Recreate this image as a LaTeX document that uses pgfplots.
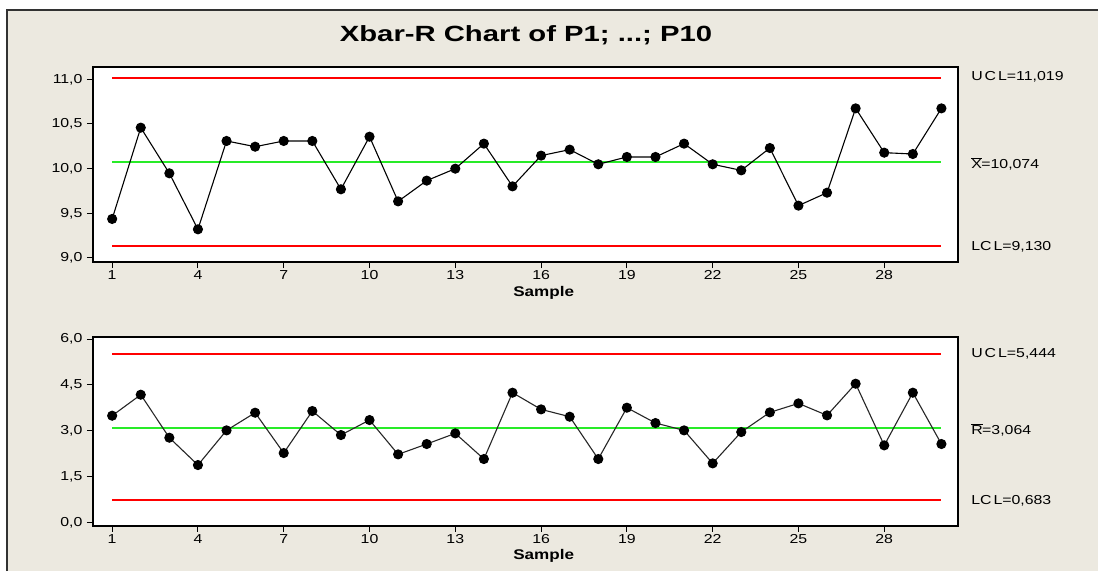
\documentclass[border=0pt]{standalone}
\usepackage{fontspec}
\setmainfont{Liberation Sans}[FakeStretch=1.22]
\newfontfamily\titlefont{Liberation Sans}[FakeStretch=1.33]
\usepackage{pgfplots}
\pgfplotsset{compat=1.18}
\definecolor{bgbeige}{RGB}{236,233,224}
\definecolor{limred}{RGB}{255,0,0}
\definecolor{centgreen}{RGB}{40,235,40}
\definecolor{framegray}{RGB}{50,50,50}

\pgfplotstableread{
x y
1 9.437
2 10.459
3 9.948
4 9.321
5 10.310
6 10.246
7 10.310
8 10.310
9 9.769
10 10.358
11 9.634
12 9.866
13 10.000
14 10.280
15 9.802
16 10.146
17 10.213
18 10.049
19 10.131
20 10.131
21 10.280
22 10.049
23 9.981
24 10.231
25 9.586
26 9.731
27 10.675
28 10.179
29 10.164
30 10.675
}\xbardata

\pgfplotstableread{
x y
1 3.491
2 4.178
3 2.771
4 1.876
5 3.011
6 3.589
7 2.269
8 3.644
9 2.858
10 3.349
11 2.225
12 2.564
13 2.913
14 2.073
15 4.244
16 3.698
17 3.458
18 2.073
19 3.753
20 3.251
21 3.011
22 1.931
23 2.956
24 3.600
25 3.894
26 3.502
27 4.538
28 2.520
29 4.244
30 2.564
}\rdata

\pgfplotsset{spc/.style={
  scale only axis, width=865pt,
  xmin=0.33, xmax=30.58,
  xtick={1,4,7,10,13,16,19,22,25,28},
  axis background/.style={fill=white},
  axis line style={line width=1.7pt, black},
  tick style={black, line width=1pt},
  tick align=outside, major tick length=6pt,
  tick pos=left,
  clip=false,
  ticklabel style={font=\fontsize{13}{15}\selectfont},
  /pgf/number format/assume math mode=true,
  yticklabel style={xshift=-1pt, /pgf/number format/fixed, /pgf/number format/fixed zerofill, /pgf/number format/precision=1, /pgf/number format/use comma, /pgf/number format/assume math mode=true},
  xticklabel style={yshift=1pt},
  limline/.style={draw=limred, color=limred, line width=1.8pt, no marks},
  cenline/.style={draw=centgreen, color=centgreen, line width=1.8pt, no marks},
}}

\begin{document}
\begin{tikzpicture}
\useasboundingbox (0,0) rectangle (1098pt,-571pt);
\fill[white] (0,0) rectangle (1098pt,-571pt);
\fill[bgbeige] (7pt,-10pt) rectangle (1098pt,-571pt);
\draw[line width=2pt, framegray] (7pt,-571pt) -- (7pt,-10pt) -- (1098pt,-10pt);

\node[font=\titlefont\bfseries\fontsize{22}{26}\selectfont] at (526pt,-35pt) {Xbar-R Chart of P1; ...; P10};

\begin{axis}[spc, at={(93pt,-262pt)}, anchor=south west, height=195pt,
  ymin=8.955, ymax=11.138, ytick={9,9.5,10,10.5,11}]
\addplot[limline] coordinates {(1,11.019) (30,11.019)};
\addplot[cenline] coordinates {(1,10.074) (30,10.074)};
\addplot[limline] coordinates {(1,9.130) (30,9.130)};
\addplot[black, line width=1.1pt, mark=*, mark size=4.5pt, mark options={fill=black, draw=black}] table[x=x,y=y] {\xbardata};
\node[anchor=west, font=\fontsize{13}{15}\selectfont] at (axis cs:30.92,11.03) {U\kern2pt C\kern2pt L=11,019};
\node[anchor=west, font=\fontsize{13}{15}\selectfont] at (axis cs:30.92,10.05) {$\overline{\hbox{X}}$\kern-0.5pt=10,074};
\node[anchor=west, font=\fontsize{13}{15}\selectfont] at (axis cs:30.92,9.12) {LC\kern2pt L=9,130};
\node[font=\bfseries\fontsize{14}{16}\selectfont] at (rel axis cs:0.521,0) [yshift=-31pt] {Sample};
\end{axis}

\begin{axis}[spc, at={(93pt,-525.7pt)}, anchor=south west, height=189pt,
  ymin=-0.109, ymax=6.076, ytick={0,1.5,3,4.5,6}]
\addplot[limline] coordinates {(1,5.52) (30,5.52)};
\addplot[cenline] coordinates {(1,3.087) (30,3.087)};
\addplot[limline] coordinates {(1,0.72) (30,0.72)};
\addplot[black!85, line width=1.1pt, mark=*, mark size=4.5pt, mark options={fill=black, draw=black}] table[x=x,y=y] {\rdata};
\node[anchor=west, font=\fontsize{13}{15}\selectfont] at (axis cs:30.92,5.52) {U\kern2pt C\kern2pt L=5,444};
\node[anchor=west, font=\fontsize{13}{15}\selectfont] at (axis cs:30.92,3.04) {$\overline{\hbox{R}}$\kern-0.5pt=3,064};
\node[anchor=west, font=\fontsize{13}{15}\selectfont] at (axis cs:30.92,0.70) {LC\kern2pt L=0,683};
\node[font=\bfseries\fontsize{14}{16}\selectfont] at (rel axis cs:0.521,0) [yshift=-30pt] {Sample};
\end{axis}
\end{tikzpicture}
\end{document}
